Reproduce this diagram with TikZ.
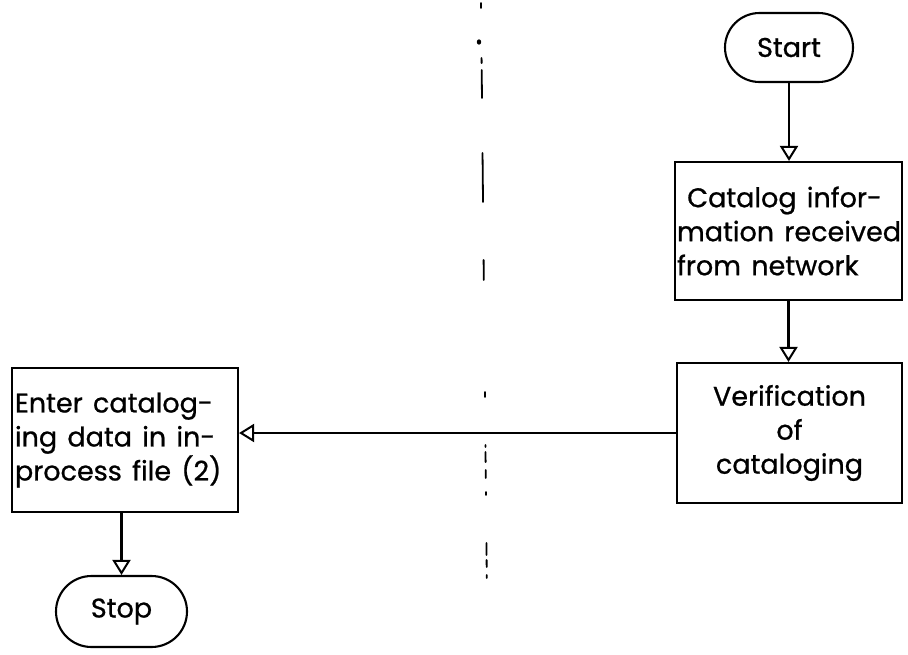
\documentclass[tikz,border=0pt]{standalone}
\usepackage{fontspec}
\setmainfont{Poppins}
\usetikzlibrary{shapes.misc,arrows.meta,calc}

\tikzset{
  flow/.style={line width=2.1pt},
  procbox/.style={flow, draw, rectangle, inner sep=0pt, font=\flowfont},
  term/.style={flow, draw, rounded rectangle, inner sep=0pt, font=\flowfont},
  link/.style={flow, -{Triangle[open, length=15pt, width=18pt, line width=2pt]}},
  divider/.style={line width=1.8pt, line cap=round}
}
\newcommand{\flowfont}{\fontsize{27}{34}\selectfont\addfontfeatures{FakeBold=0.8}\spaceskip=0.38em\relax}
\newcommand{\boxline}[1]{\mbox{#1}}

\begin{document}
\begin{tikzpicture}[x=1pt, y=-1pt]
  \useasboundingbox (0,0) rectangle (908,654);

  % terminals
  \node[term, minimum width=128pt, minimum height=69pt] (start) at (789,47.5) {Start};
  \node[term, minimum width=131pt, minimum height=71pt] (stop) at (121.5,611.5) {Stop};

  % process boxes
  \node[procbox, minimum width=227pt, minimum height=138pt] (info) at (788.5,231)
    {\parbox{223pt}{\hfuzz=40pt\raggedright\boxline{\ Catalog infor-}\\\boxline{mation received}\\\boxline{from network}}};
  \node[procbox, minimum width=225pt, minimum height=140pt] (verify) at (789.5,433)
    {\parbox{217pt}{\centering Verification\\of\\cataloging}};
  \node[procbox, minimum width=226pt, minimum height=144pt] (enter) at (125,440)
    {\parbox{220pt}{\hfuzz=40pt\raggedright\boxline{Enter catalog-}\\\boxline{ing data in in-}\\\boxline{process file (2)}}};

  % connectors
  \draw[link] (start.south) -- (start.south |- info.north);
  \draw[link] (info.south) -- (info.south |- verify.north);
  \draw[link] (verify.west) -- (verify.west -| enter.east);
  \draw[link] (stop.north |- enter.south) -- (stop.north);

  % broken vertical divider
  \coordinate (d0) at (481,0);
  \foreach \a/\b in {3/8, 58/63, 70/98, 153/202, 260/280, 392/397,
                     445/447, 452/462, 470/478, 492/495, 543/555, 560/567, 575/578}{
    \draw[divider] ($(d0)+(\a*0.01,\a)$) -- ($(d0)+(\b*0.01,\b)$);
  }
  \fill (479,42) ellipse (2.2pt and 2.7pt);
\end{tikzpicture}
\end{document}
